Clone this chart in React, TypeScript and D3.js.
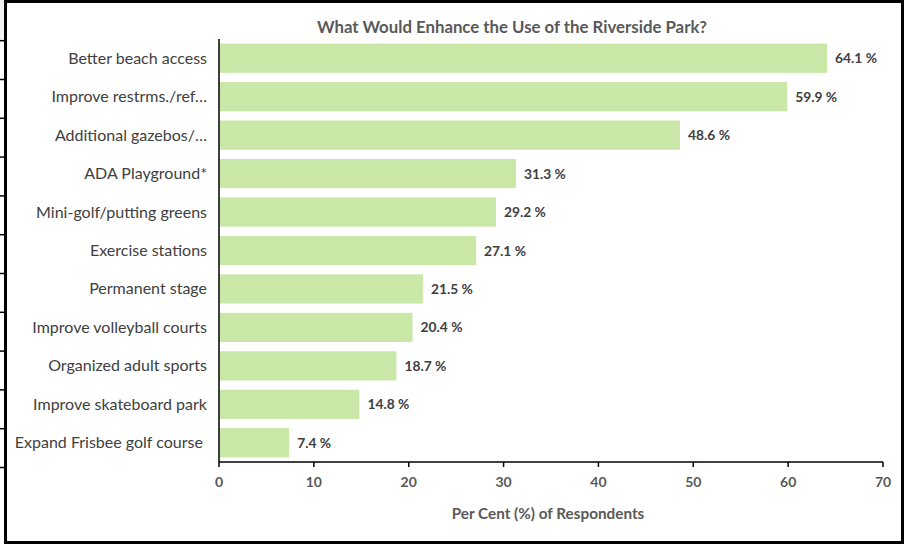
import React from "react";
import * as d3 from "d3";

const categories = [
  "Better beach access",
  "Improve restrms./ref…",
  "Additional gazebos/…",
  "ADA Playground*",
  "Mini-golf/putting greens",
  "Exercise stations",
  "Permanent stage",
  "Improve volleyball courts",
  "Organized adult sports",
  "Improve skateboard park",
  "Expand Frisbee golf course ",
];
const values = [64.1, 59.9, 48.6, 31.3, 29.2, 27.1, 21.5, 20.4, 18.7, 14.8, 7.4];
const xTicks = [0, 10, 20, 30, 40, 50, 60, 70];
const title = "What Would Enhance the Use of the Riverside Park?";
const xTitle = "Per Cent (%) of Respondents";

const W = 910;
const H = 544;
const left = 219;
const right = 883;
const top = 39;
const bottom = 462;
const font = "Lato, 'Open Sans', sans-serif";

export default function App() {
  const x = d3.scaleLinear().domain([0, 70]).range([left, right]);
  const y = d3.scaleBand<string>().domain(categories).range([top, bottom]).paddingInner(0.24).paddingOuter(0.12);
  const rowLines = d3.range(12).map((i) => 40.7 + i * 38.8);
  return (
    <svg width={W} height={H} style={{ position: "absolute", left: 0, top: 0 }}>
      <rect x={0} y={0} width={W} height={H} fill="#fff" />
      <rect x={0} y={0} width={6} height={40} fill="#f0f0f0" />
      {rowLines.map((ly, i) => (
        <line key={i} x1={0} x2={6} y1={ly} y2={ly} stroke="#000" strokeWidth={1.5} />
      ))}
      <rect x={5.5} y={1.5} width={897} height={541} fill="none" stroke="#000" strokeWidth={3} />
      <text x={512} y={33} textAnchor="middle" fontFamily={font} fontWeight="bold" fontSize={16.8} fill="#595959">
        {title}
      </text>
      {categories.map((c, i) => (
        <g key={c}>
          <rect x={x(0)} y={y(c)} width={x(values[i]) - x(0)} height={y.bandwidth()} fill="#c9e7a7" />
          <text x={x(values[i]) + 8} y={(y(c) as number) + y.bandwidth() / 2 + 5} fontFamily={font} fontWeight="bold" fontSize={13.8} fill="#404040">
            {values[i].toFixed(1) + " %"}
          </text>
          <text x={207} y={(y(c) as number) + y.bandwidth() / 2 + 5.5} textAnchor="end" fontFamily={font} fontSize={16} fill="#404040" style={{ whiteSpace: "pre" }}>
            {c}
          </text>
        </g>
      ))}
      <line x1={left} x2={left} y1={top} y2={bottom} stroke="#000" strokeWidth={1.5} />
      <line x1={left} x2={right} y1={bottom} y2={bottom} stroke="#000" strokeWidth={1.5} />
      {xTicks.map((t) => (
        <g key={t}>
          <line x1={x(t)} x2={x(t)} y1={bottom} y2={bottom + 5} stroke="#000" strokeWidth={1.5} />
          <text x={x(t)} y={bottom + 24.5} textAnchor="middle" fontFamily={font} fontWeight="bold" fontSize={14} fill="#595959">
            {t}
          </text>
        </g>
      ))}
      <text x={548} y={518.5} textAnchor="middle" fontFamily={font} fontWeight="bold" fontSize={15.3} fill="#595959">
        {xTitle}
      </text>
    </svg>
  );
}
